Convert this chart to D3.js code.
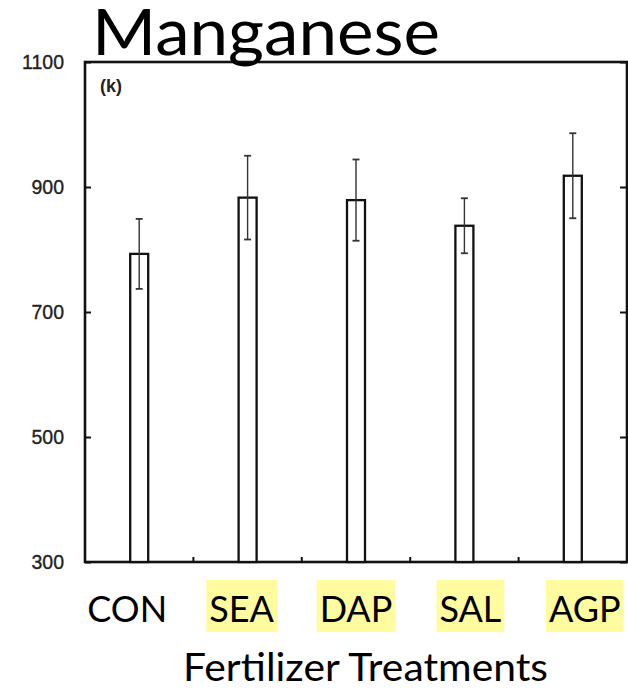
<!DOCTYPE html>
<html>
<head>
<meta charset="utf-8">
<script src="https://cdn.jsdelivr.net/npm/d3@7"></script>
<style>
  body { margin: 0; background: #fff; }
  svg { display: block; }
</style>
</head>
<body>
<div id="chart"></div>
<script>
// data
var categories = ["CON", "SEA", "DAP", "SAL", "AGP"];
var means = [793, 883, 879, 838, 918];
var errors = [56, 67, 65, 44, 68];
var highlighted = [false, true, true, true, true];
var yTicks = [300, 500, 700, 900, 1100];

var W = 628, H = 689;
var Plot = {left: 85, right: 627, top: 62, bottom: 562};
var barW = 18;

var svg = d3.select("#chart").append("svg")
    .attr("width", W)
    .attr("height", H);

var x = d3.scaleBand()
    .domain(categories)
    .range([Plot.left, Plot.right])
    .padding(0);

// slide labels sit on their own, slightly wider spacing
var xLab = d3.scaleBand()
    .domain(categories)
    .range([70, 642])
    .padding(0);

var y = d3.scaleLinear()
    .domain([300, 1100])
    .range([Plot.bottom, Plot.top]);

// frame
svg.append("rect")
   .attr("x", Plot.left)
   .attr("y", Plot.top)
   .attr("width", Plot.right - Plot.left)
   .attr("height", Plot.bottom - Plot.top)
   .style("fill", "none")
   .style("stroke", "#111")
   .style("stroke-width", 2.6);

// left axis, ticks pointing in
var yAxis = svg.append("g")
    .attr("transform", "translate(" + Plot.left + ",0)")
    .call(d3.axisLeft(y).tickValues(yTicks).tickSize(-6).tickPadding(21).tickFormat(d3.format("d")));
yAxis.select(".domain").remove();
yAxis.selectAll("line").style("stroke", "#111").style("stroke-width", 2);
yAxis.selectAll("text")
     .style("font-family", "'Liberation Sans', Arial, sans-serif")
     .style("font-size", "19.5px")
     .style("fill", "#222")
     .style("stroke", "#222")
     .style("stroke-width", 0.35);

// right axis, ticks only
var yAxisR = svg.append("g")
    .attr("transform", "translate(" + Plot.right + ",0)")
    .call(d3.axisRight(y).tickValues(yTicks).tickSize(-7).tickFormat(""));
yAxisR.select(".domain").remove();
yAxisR.selectAll("line").style("stroke", "#111").style("stroke-width", 2);

// small ticks between categories on the bottom line
svg.append("g").selectAll("line")
   .data(categories.slice(1))
   .enter().append("line")
   .attr("x1", d => x(d))
   .attr("x2", d => x(d))
   .attr("y1", Plot.bottom)
   .attr("y2", Plot.bottom - 5)
   .style("stroke", "#111")
   .style("stroke-width", 2);

// panel letter
svg.append("text")
   .attr("x", Plot.left + 15)
   .attr("y", Plot.top + 30)
   .style("font-family", "'Liberation Sans', Arial, sans-serif")
   .style("font-size", "18px")
   .style("font-weight", "bold")
   .style("fill", "#222")
   .text("(k)");

// bars
svg.append("g").selectAll("rect")
   .data(categories)
   .enter().append("rect")
   .attr("x", d => x(d) + x.bandwidth() / 2 - barW / 2)
   .attr("y", (d, i) => y(means[i]))
   .attr("width", barW)
   .attr("height", (d, i) => y(300) - y(means[i]))
   .style("fill", "#fff")
   .style("stroke", "#111")
   .style("stroke-width", 2.3);

// error bars
var eb = svg.append("g").selectAll("g")
   .data(categories)
   .enter().append("g")
   .style("stroke", "#333")
   .style("stroke-width", 1.4);

eb.append("line")
  .attr("x1", d => x(d) + x.bandwidth() / 2)
  .attr("x2", d => x(d) + x.bandwidth() / 2)
  .attr("y1", (d, i) => y(means[i] + errors[i]))
  .attr("y2", (d, i) => y(means[i] - errors[i]));

eb.selectAll(".cap")
  .data((d, i) => [{c: d, v: means[i] + errors[i]}, {c: d, v: means[i] - errors[i]}])
  .enter().append("line")
  .attr("class", "cap")
  .attr("x1", d => x(d.c) + x.bandwidth() / 2 - 3.5)
  .attr("x2", d => x(d.c) + x.bandwidth() / 2 + 3.5)
  .attr("y1", d => y(d.v))
  .attr("y2", d => y(d.v))
  .style("stroke-width", 1.8);

// category labels with yellow highlight
var labFont = "Lato, 'Open Sans', sans-serif";
var labs = svg.append("g").selectAll("g")
   .data(categories)
   .enter().append("g");

labs.append("text")
    .attr("x", d => xLab(d) + xLab.bandwidth() / 2)
    .attr("y", 622)
    .attr("text-anchor", "middle")
    .style("font-family", labFont)
    .style("font-size", "36px")
    .style("fill", "#000")
    .text(d => d);

labs.each(function(d, i) {
  if (!highlighted[i]) return;
  var g = d3.select(this);
  var bb = g.select("text").node().getBBox();
  g.insert("rect", "text")
   .attr("x", bb.x - 3)
   .attr("y", 580)
   .attr("width", bb.width + 6)
   .attr("height", 52)
   .style("fill", "#fffca0");
});

// axis title
svg.append("text")
   .attr("x", 183)
   .attr("y", 681)
   .attr("textLength", 365)
   .attr("lengthAdjust", "spacingAndGlyphs")
   .style("font-family", labFont)
   .style("font-size", "38px")
   .style("fill", "#000")
   .text("Fertilizer Treatments");

// chart title
svg.append("text")
   .attr("x", 92)
   .attr("y", 55)
   .attr("textLength", 348)
   .attr("lengthAdjust", "spacingAndGlyphs")
   .style("font-family", labFont)
   .style("font-size", "63px")
   .style("fill", "#000")
   .text("Manganese");
</script>
</body>
</html>
